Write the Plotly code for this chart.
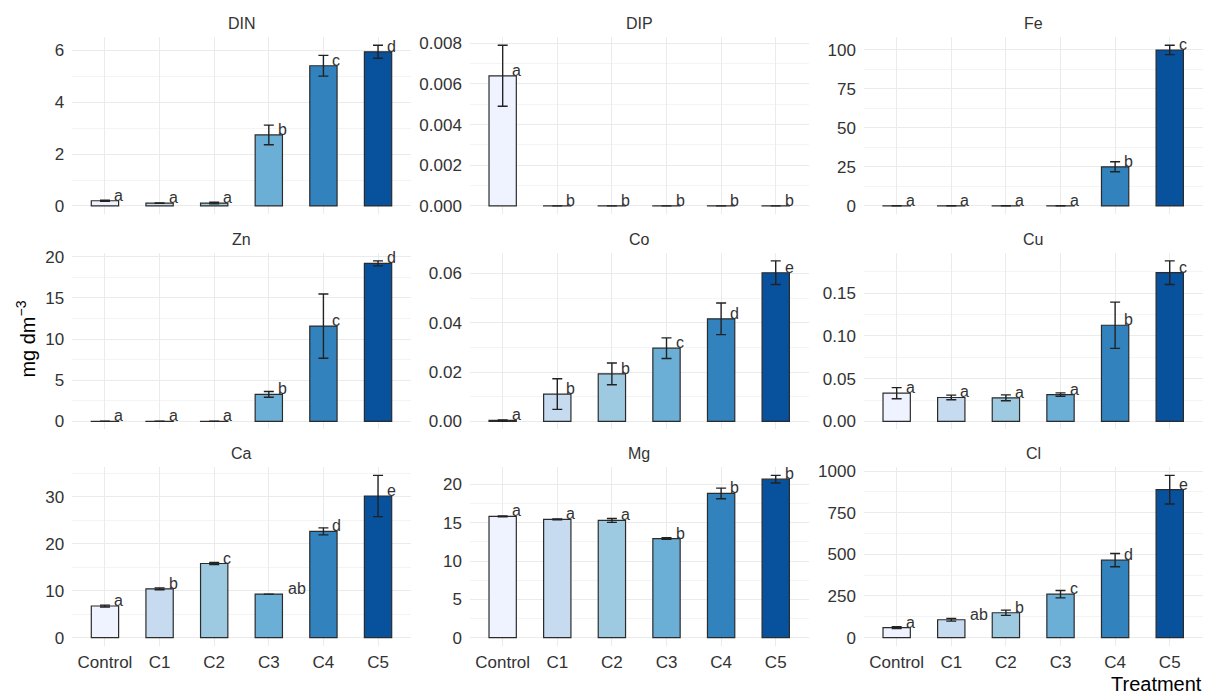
import plotly.graph_objects as go

treatments = ["Control", "C1", "C2", "C3", "C4", "C5"]
bar_colors = ["#EFF3FF", "#C6DBEF", "#9ECAE1", "#6BAED6", "#3182BD", "#08519C"]

din_mean = [0.20, 0.11, 0.11, 2.74, 5.41, 5.95]
din_sd = [0.02, 0.01, 0.03, 0.38, 0.40, 0.25]
din_letters = ["a", "a", "a", "b", "c", "d"]

dip_mean = [0.0064, 0.0, 0.0, 0.0, 0.0, 0.0]
dip_sd = [0.0015, None, None, None, None, None]
dip_letters = ["a", "b", "b", "b", "b", "b"]

fe_mean = [0.1, 0.1, 0.1, 0.1, 25.1, 100.0]
fe_sd = [None, None, None, None, 3.2, 3.0]
fe_letters = ["a", "a", "a", "a", "b", "c"]

zn_mean = [0.02, 0.02, 0.02, 3.29, 11.58, 19.2]
zn_sd = [None, None, None, 0.35, 3.9, 0.3]
zn_letters = ["a", "a", "a", "b", "c", "d"]

co_mean = [0.0004, 0.0111, 0.0193, 0.0297, 0.0416, 0.0603]
co_sd = [0.0002, 0.0062, 0.0044, 0.0042, 0.0064, 0.0048]
co_letters = ["a", "b", "b", "c", "d", "e"]

cu_mean = [0.033, 0.028, 0.0276, 0.0314, 0.1124, 0.1738]
cu_sd = [0.0065, 0.0027, 0.0035, 0.002, 0.027, 0.0138]
cu_letters = ["a", "a", "a", "a", "b", "c"]

ca_mean = [6.73, 10.4, 15.8, 9.27, 22.65, 30.2]
ca_sd = [0.2, 0.2, 0.2, None, 0.75, 4.4]
ca_letters = ["a", "b", "c", "ab", "d", "e"]

mg_mean = [15.84, 15.45, 15.3, 12.94, 18.83, 20.69]
mg_sd = [0.05, 0.05, 0.25, 0.1, 0.7, 0.5]
mg_letters = ["a", "a", "a", "b", "b", "b"]

cl_mean = [59.6, 107, 149, 260.5, 465, 888]
cl_sd = [5, 8, 16, 22, 40, 86]
cl_letters = ["a", "ab", "b", "c", "d", "e"]

panels = [
    ("DIN", din_mean, din_sd, din_letters, 2, 1, None),
    ("DIP", dip_mean, dip_sd, dip_letters, 0.002, 0.001, ".3f"),
    ("Fe", fe_mean, fe_sd, fe_letters, 25, 12.5, None),
    ("Zn", zn_mean, zn_sd, zn_letters, 5, 2.5, None),
    ("Co", co_mean, co_sd, co_letters, 0.02, 0.01, ".2f"),
    ("Cu", cu_mean, cu_sd, cu_letters, 0.05, 0.025, ".2f"),
    ("Ca", ca_mean, ca_sd, ca_letters, 10, 5, None),
    ("Mg", mg_mean, mg_sd, mg_letters, 5, 2.5, None),
    ("Cl", cl_mean, cl_sd, cl_letters, 250, 125, None),
]

W, H = 1213, 694
col_px = [(72.2, 410.8), (469.9, 808.5), (863.9, 1202.5)]
row_px = [(32.6, 211.1), (250.4, 428.8), (467.0, 647.2)]

FONT = "Liberation Sans, Arial, sans-serif"
TXT = "#333333"

fig = go.Figure()
annotations = []
for i, (name, mean, sd, letters, dtick, mdtick, fmt) in enumerate(panels):
    r, c = divmod(i, 3)
    idx = i + 1
    xa = "x" if idx == 1 else f"x{idx}"
    ya = "y" if idx == 1 else f"y{idx}"
    top = max(m + (s or 0) for m, s in zip(mean, sd))
    lo, hi = -0.05 * top, 1.05 * top
    eps = top * 2e-4
    ys = [m if m > 0 else eps for m in mean]
    err = [s if s is not None else float("nan") for s in sd]
    fig.add_trace(go.Bar(
        x=treatments, y=ys, xaxis=xa, yaxis=ya, width=0.5,
        marker=dict(color=bar_colors, line=dict(color="#2b2b2b", width=1.2)),
        error_y=dict(type="data", array=err, visible=True, color="#222222",
                     thickness=1.4, width=5),
        showlegend=False, hoverinfo="skip",
    ))
    x0, x1 = col_px[c]
    y0, y1 = row_px[r]
    xkey = "xaxis" if idx == 1 else f"xaxis{idx}"
    ykey = "yaxis" if idx == 1 else f"yaxis{idx}"
    fig.layout[xkey] = dict(
        domain=[x0 / W, x1 / W], anchor=ya, type="category",
        categoryorder="array", categoryarray=treatments,
        range=[-0.6, 5.6], showgrid=True, gridcolor="#EBEBEB", gridwidth=1,
        showline=False, zeroline=False, ticks="",
        showticklabels=(r == 2),
        tickfont=dict(family=FONT, size=17, color=TXT),
        ticklabelstandoff=4,
    )
    fig.layout[ykey] = dict(
        domain=[1 - y1 / H, 1 - y0 / H], anchor=xa, range=[lo, hi],
        tick0=0, dtick=dtick, tickformat=fmt,
        showgrid=True, gridcolor="#EBEBEB", gridwidth=1,
        minor=dict(dtick=mdtick, tick0=0, showgrid=True, gridcolor="#F4F4F4", gridwidth=0.8),
        showline=False, zeroline=False, ticks="",
        tickfont=dict(family=FONT, size=17, color=TXT),
        ticklabelstandoff=7,
    )
    annotations.append(dict(
        text=name, xref="paper", yref="paper",
        x=(x0 + x1) / 2 / W, y=1 - (y0 - 14) / H,
        xanchor="center", yanchor="middle", showarrow=False,
        font=dict(family=FONT, size=16, color=TXT),
    ))
    for t, m, lab in zip(treatments, mean, letters):
        annotations.append(dict(
            text=lab, xref=xa, yref=ya, x=t, y=m,
            xanchor="left", yanchor="bottom", showarrow=False,
            xshift=10 * len(lab) - 3, yshift=-5,
            font=dict(family=FONT, size=16, color=TXT),
        ))

annotations.append(dict(
    text="mg dm<sup>−3</sup>", xref="paper", yref="paper",
    x=26 / W, y=1 - 338 / H, textangle=-90,
    xanchor="center", yanchor="middle", showarrow=False,
    font=dict(family=FONT, size=20, color="#000000"),
))
annotations.append(dict(
    text="Treatment", xref="paper", yref="paper",
    x=1204 / W, y=1 - 686 / H,
    xanchor="right", yanchor="middle", showarrow=False,
    font=dict(family=FONT, size=20, color="#000000"),
))

fig.update_layout(
    width=W, height=H, margin=dict(l=0, r=0, t=0, b=0),
    paper_bgcolor="white", plot_bgcolor="white",
    annotations=annotations, barmode="overlay", bargap=0.5,
)

fig.write_html("out.html", config={"displayModeBar": False},
               post_script="document.body.style.margin='0';")
